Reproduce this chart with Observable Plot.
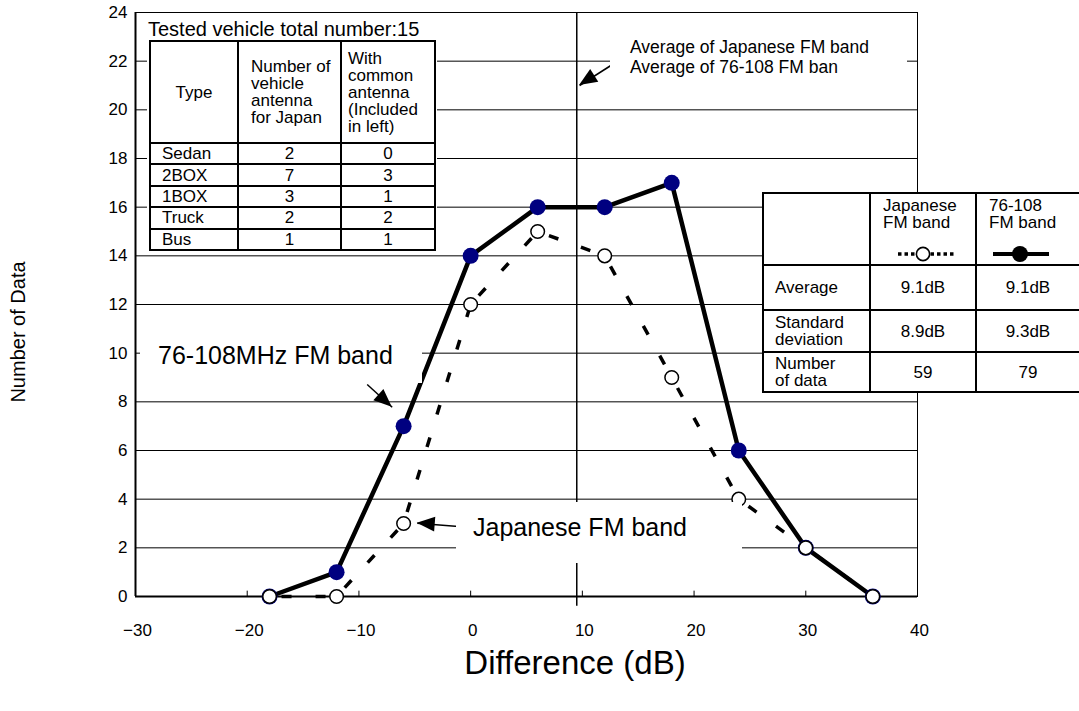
<!DOCTYPE html>
<html><head><meta charset="utf-8">
<script src="https://cdn.jsdelivr.net/npm/d3@7"></script>
<script src="https://cdn.jsdelivr.net/npm/@observablehq/plot@0.6"></script>
<style>
body{margin:0;background:#fff;font-family:"Liberation Sans",Arial,sans-serif;color:#000;}
#wrap{position:relative;width:1079px;height:711px;overflow:hidden;background:#fff;}
#chart{position:absolute;left:0;top:0;}
.abs{position:absolute;background:#fff;color:#000;}
table{border-collapse:collapse;table-layout:fixed;position:absolute;}
td{border:2px solid #000;padding:0;font-size:17px;line-height:17px;overflow:hidden;box-sizing:border-box;}
.lbl{position:absolute;white-space:nowrap;line-height:1;}
</style></head><body>
<div id="wrap"><div id="chart"></div></div>
<script>
// ---- data ----
const diffs = [-18, -12, -6, 0, 6, 12, 18, 24, 30, 36];
const fm76108 = [0, 1, 7, 14, 16, 16, 17, 6, 2, 0];
const japanFM = [0, 0, 3, 12, 15, 14, 9, 4, 2, 0];
const avgLine = 9.5;
const xTicks = [-30, -20, -10, 0, 10, 20, 30, 40];
const yTicks = [0, 2, 4, 6, 8, 10, 12, 14, 16, 18, 20, 22, 24];
const gridY = [2, 4, 6, 8, 10, 12, 14, 16, 18, 20, 22];
const vehicleTitle = "Tested vehicle total number:15";
const vehicleHeader = ["Type", "Number of<br>vehicle<br>antenna<br>for Japan", "With<br>common<br>antenna<br>(Included<br>in left)"];
const vehicleTypes = ["Sedan", "2BOX", "1BOX", "Truck", "Bus"];
const vehicleCounts = [2, 7, 3, 2, 1];
const commonAntenna = [0, 3, 1, 2, 1];
const statHeader = ["Japanese<br>FM band", "76-108<br>FM band"];
const statRows = ["Average", "Standard<br>deviation", "Number<br>of data"];
const statJapan = ["9.1dB", "8.9dB", "59"];
const stat76108 = ["9.1dB", "9.3dB", "79"];
// annotation arrows (data coordinates, tail -> tip)
const arrowTail = [[-9.26, 8.71], [-1.09, 2.88], [13.57, 22.12]];
const arrowTip = [[-7.02, 7.78], [-4.78, 3.01], [9.75, 21.0]];

const solid = diffs.map((d, i) => ({x: d, y: fm76108[i]}));
const japan = diffs.map((d, i) => ({x: d, y: japanFM[i]}));
const dashSegs = diffs.slice(0, -1).map((d, i) => ({x1: d, y1: japanFM[i], x2: diffs[i + 1], y2: japanFM[i + 1]}));
const arrows = arrowTail.map((t, i) => ({x1: t[0], y1: t[1], x2: arrowTip[i][0], y2: arrowTip[i][1]}));

const chart = Plot.plot({
  width: 1079, height: 711,
  marginLeft: 135, marginRight: 162, marginTop: 12, marginBottom: 115,
  x: {domain: [-30, 40]},
  y: {domain: [0, 24]},
  style: {fontFamily: '"Liberation Sans", Arial, sans-serif', fontSize: "17px", color: "#000", background: "#fff"},
  marks: [
    Plot.ruleY(gridY, {stroke: "#000", strokeWidth: 1}),
    Plot.frame({stroke: "#000", strokeWidth: 1}),
    Plot.ruleX([-30], {stroke: "#000", strokeWidth: 2}),
    Plot.ruleY([0], {stroke: "#000", strokeWidth: 2}),
    Plot.ruleX(xTicks.slice(1, -1), {x: d => d, y1: 0, y2: 0.22, stroke: "#000", strokeWidth: 1}),
    Plot.axisX({ticks: xTicks, tickSize: 0, tickPadding: 27, dx: 2, label: null}),
    Plot.axisY({ticks: yTicks, tickSize: 0, tickPadding: 8, label: null}),
    Plot.ruleX([avgLine], {y1: -0.4, y2: 24, stroke: "#000", strokeWidth: 1.5}),
    Plot.line(solid, {x: "x", y: "y", stroke: "#000", strokeWidth: 4.5}),
    Plot.link(dashSegs, {x1: "x1", y1: "y1", x2: "x2", y2: "y2", stroke: "#000", strokeWidth: 3.5, strokeDasharray: "10,24", strokeDashoffset: 22}),
    Plot.dot(solid, {x: "x", y: "y", r: 8, fill: "#000080"}),
    Plot.dot(japan, {x: "x", y: "y", r: 6.8, fill: "#fff", stroke: "#000", strokeWidth: 1.5}),
    Plot.link(arrows, {x1: "x1", y1: "y1", x2: "x2", y2: "y2", stroke: "#000", strokeWidth: 1.5})
  ]
});
document.getElementById("chart").appendChild(chart);

// arrowheads via plot scales
const sx = chart.scale("x"), sy = chart.scale("y");
const svg = d3.select(chart);
arrows.forEach(a => {
  const x1 = sx.apply(a.x1), y1 = sy.apply(a.y1), x2 = sx.apply(a.x2), y2 = sy.apply(a.y2);
  const dx = x2 - x1, dy = y2 - y1, len = Math.hypot(dx, dy);
  const ux = dx / len, uy = dy / len, L = 18, w = 7.5;
  const bx = x2 - L * ux, by = y2 - L * uy;
  svg.append("path")
    .attr("d", `M${x2},${y2}L${bx - w * uy},${by + w * ux}L${bx + w * uy},${by - w * ux}Z`)
    .attr("fill", "#000");
});

const wrap = document.getElementById("wrap");
function add(html) { wrap.insertAdjacentHTML("beforeend", html); }

// left table
let lt = `<div class="abs" style="left:147px;top:13px;width:290px;height:238px;">
<div class="lbl" style="left:1px;top:6px;font-size:20px;">${vehicleTitle}</div>
<table style="left:2px;top:27px;width:285px;">
<colgroup><col style="width:88px"><col style="width:103px"><col style="width:94px"></colgroup>
<tr style="height:102px">
<td style="text-align:center;vertical-align:middle">${vehicleHeader[0]}</td>
<td style="padding-left:12px;vertical-align:middle">${vehicleHeader[1]}</td>
<td style="padding-left:6px;vertical-align:middle">${vehicleHeader[2]}</td></tr>`;
vehicleTypes.forEach((t, i) => {
  lt += `<tr style="height:21.4px"><td style="padding-left:11px">${t}</td><td style="text-align:center">${vehicleCounts[i]}</td><td style="text-align:center">${commonAntenna[i]}</td></tr>`;
});
lt += `</table></div>`;
add(lt);

// right table
const legJ = `<svg width="104" height="20" style="display:block;position:absolute;left:0;bottom:0"><line x1="27" y1="10" x2="83" y2="10" stroke="#000" stroke-width="3.5" stroke-dasharray="3.5,3"/><circle cx="52" cy="10" r="6.6" fill="#fff" stroke="#000" stroke-width="1.6"/></svg>`;
const legS = `<svg width="100" height="20" style="display:block;position:absolute;left:0;bottom:0"><line x1="16" y1="10" x2="72" y2="10" stroke="#000" stroke-width="4"/><circle cx="43" cy="10" r="8" fill="#000"/></svg>`;
let rt = `<table style="left:762px;top:192px;width:317px;background:#fff">
<colgroup><col style="width:107px"><col style="width:106px"><col style="width:104px"></colgroup>
<tr style="height:72px"><td></td>
<td style="vertical-align:top;position:relative"><div style="padding:3px 0 0 12px">${statHeader[0]}</div>${legJ}</td>
<td style="vertical-align:top;position:relative"><div style="padding:3px 0 0 12px">${statHeader[1]}</div>${legS}</td></tr>`;
const rh = [45, 42, 40];
statRows.forEach((r, i) => {
  rt += `<tr style="height:${rh[i]}px"><td style="padding-left:11px">${r}</td><td style="text-align:center">${statJapan[i]}</td><td style="text-align:center">${stat76108[i]}</td></tr>`;
});
rt += `</table>`;
add(rt);

// annotation boxes
add(`<div class="abs" style="left:610px;top:32px;width:297px;height:55px;font-size:17.5px;line-height:19.5px;">
<div style="position:absolute;left:20px;top:6px;white-space:nowrap">Average of Japanese FM band<br>Average of 76-108 FM ban</div></div>`);
add(`<div class="abs" style="left:140px;top:318px;width:282px;height:65px;">
<div class="lbl" style="left:18px;top:25px;font-size:25px;">76-108MHz FM band</div></div>`);
add(`<div class="abs" style="left:456px;top:502px;width:286px;height:61px;">
<div class="lbl" style="left:17px;top:13px;font-size:25px;">Japanese FM band</div></div>`);
// axis titles
add(`<div class="lbl" style="left:18px;top:332px;font-size:20px;transform:translate(-50%,-50%) rotate(-90deg);">Number of Data</div>`);
add(`<div class="lbl" style="left:575px;top:662px;font-size:33px;transform:translate(-50%,-50%);">Difference (dB)</div>`);
</script>
</body></html>
